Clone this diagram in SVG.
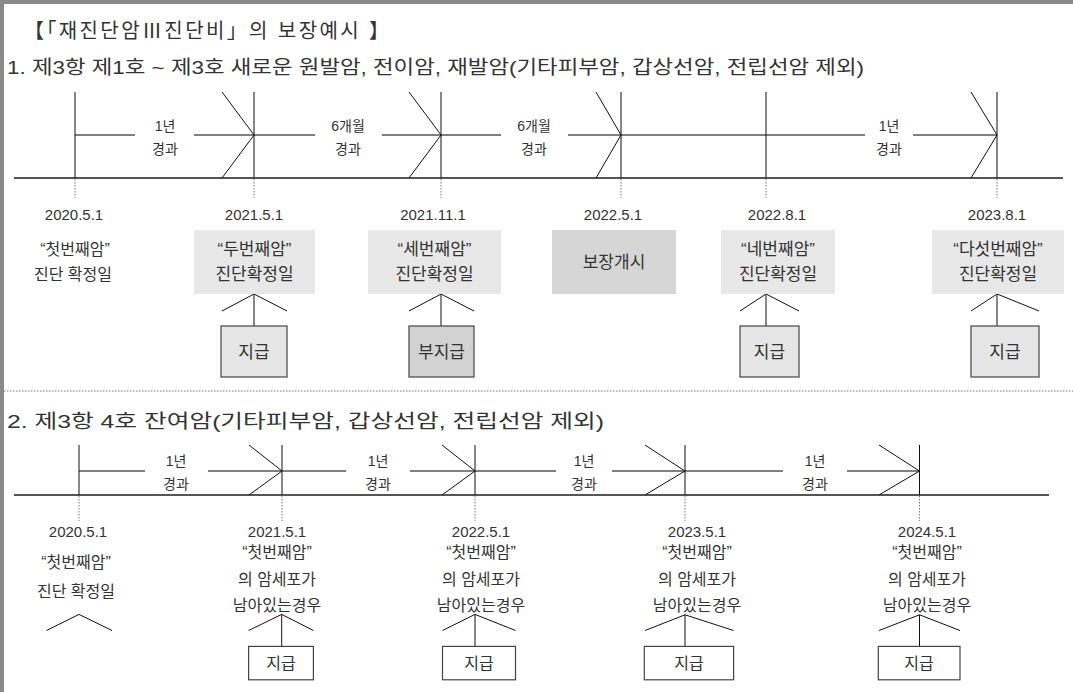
<svg xmlns="http://www.w3.org/2000/svg" width="1073" height="692" viewBox="0 0 1073 692">
<style>
text{font-family:"Liberation Sans","Noto Sans CJK KR",sans-serif;fill:#333}
.t{font-size:20px}
.h{font-size:19px}
.d{font-size:15px;text-anchor:middle}
.k{font-size:16px;text-anchor:middle}
.kb{font-size:17px;text-anchor:middle}
.l{font-size:14px;text-anchor:middle}
.main{stroke:#555;stroke-width:2;fill:none}
.up{stroke:#555;stroke-width:1.6;fill:none}
.tick{stroke:#111;stroke-width:1;fill:none}
.dot{stroke:#777;stroke-width:1;stroke-dasharray:1.5 1.5;fill:none}
.pay{fill:#e6e6e6;stroke:#444;stroke-width:1.2}
.nopay{fill:#d2d2d2;stroke:#444;stroke-width:1.2}
.wpay{fill:#fff;stroke:#444;stroke-width:1.2}
.g1{fill:#e8e8e8}
.g2{fill:#d6d6d6}
</style>
<rect x="0" y="0" width="1073" height="692" fill="#fff"/>
<rect x="0" y="0" width="1073" height="4" fill="#8a8a8a"/>
<rect x="0" y="0" width="4" height="692" fill="#8a8a8a"/>

<g id="headings">
<text class="t" x="24" y="38" textLength="365" lengthAdjust="spacing">【「재진단암Ⅲ진단비」의 보장예시 】</text>
<text class="h" x="7" y="74" textLength="857" lengthAdjust="spacingAndGlyphs">1. 제3항 제1호 ~ 제3호 새로운 원발암, 전이암, 재발암(기타피부암, 갑상선암, 전립선암 제외)</text>
<text class="h" x="7" y="428" textLength="597" lengthAdjust="spacingAndGlyphs">2. 제3항 4호 잔여암(기타피부암, 갑상선암, 전립선암 제외)</text>
</g>

<g id="connectors">
<path class="main" d="M14 178H1063M14 495H1049"/>
<path class="up" d="M75 135H135M194 135H315M382 135H501M568 135H865M913 135H997"/>
<path class="up" d="M79 471H145M208 471H346M410 471H556M612 471H783M847 471H919.5"/>
<path class="tick" d="M75 92V178M254 92V178M441 92V178M621 92V178M766 92V178M997 92V178"/>
<path class="tick" d="M222 92L254 135L222 178M409 92L441 135L409 178M596 92L621 135L596 178M971 92L997 135L971 178"/>
<path class="dot" d="M75 179V198M254 179V198M441 179V198M621 179V198M766 179V198M997 179V198"/>
<path class="tick" d="M79 445V495M282 445V495M475 445V495M685 445V495M919.5 445V495"/>
<path class="tick" d="M249 445L282 471L249 495M442 445L475 471L442 495M645 445L685 471L645 495M879 445L919.5 471L879 495"/>
<path class="dot" d="M79 496V521M282 496V521M475 496V521M685 496V521M919.5 496V521"/>
<path class="tick" d="M222 311L254 294L287 311M254 294V326M409 311L441 294L474 311M441 294V326M740 311L766 294L799 311M766 294V326M971 311L997 294L1039 311M997 294V326"/>
<path class="tick" d="M46.5 630.5L79 614.4L112 630.5M248.6 630.5L281.7 614.4L313.4 630.5M281.7 614.4V646.4M442.5 630.5L475 614.4L515.5 630.5M475 614.4V646.4M645 630.5L685 614.8L733.6 630.5M685 614.8V647M879 630.5L919.5 614.8L960 630.5M919.5 614.8V647"/>
<path class="dot" d="M4 391H1073"/>
</g>

<g id="labels1">
<text class="l" x="165" y="131">1년</text><text class="l" x="165" y="154">경과</text>
<text class="l" x="348" y="131">6개월</text><text class="l" x="348" y="154">경과</text>
<text class="l" x="534" y="131">6개월</text><text class="l" x="534" y="154">경과</text>
<text class="l" x="889" y="131">1년</text><text class="l" x="889" y="154">경과</text>
</g>
<g id="labels2">
<text class="l" x="176" y="466">1년</text><text class="l" x="176" y="489">경과</text>
<text class="l" x="378" y="466">1년</text><text class="l" x="378" y="489">경과</text>
<text class="l" x="584" y="466">1년</text><text class="l" x="584" y="489">경과</text>
<text class="l" x="815" y="466">1년</text><text class="l" x="815" y="489">경과</text>
</g>

<g id="s1-2020">
<text class="d" x="74" y="220">2020.5.1</text>
<text class="k" x="75" y="255">“첫번째암”</text>
<text class="k" x="73" y="280">진단 확정일</text>
</g>
<g id="s1-2021-5">
<text class="d" x="254" y="220">2021.5.1</text>
<rect class="g1" x="194" y="230" width="121" height="64"/>
<text class="kb" x="254.5" y="255">“두번째암”</text>
<text class="kb" x="254.5" y="280">진단확정일</text>
</g>
<g id="s1-2021-11">
<text class="d" x="433" y="220">2021.11.1</text>
<rect class="g1" x="368" y="230" width="133" height="64"/>
<text class="kb" x="434.5" y="255">“세번째암”</text>
<text class="kb" x="434.5" y="280">진단확정일</text>
</g>
<g id="s1-2022-5">
<text class="d" x="613" y="220">2022.5.1</text>
<rect class="g2" x="552" y="230" width="124" height="64"/>
<text class="kb" x="614" y="268">보장개시</text>
</g>
<g id="s1-2022-8">
<text class="d" x="777" y="220">2022.8.1</text>
<rect class="g1" x="721" y="230" width="114" height="64"/>
<text class="kb" x="778" y="255">“네번째암”</text>
<text class="kb" x="778" y="280">진단확정일</text>
</g>
<g id="s1-2023-8">
<text class="d" x="997" y="220">2023.8.1</text>
<rect class="g1" x="932" y="230" width="132" height="64"/>
<text class="kb" x="998" y="255">“다섯번째암”</text>
<text class="kb" x="998" y="280">진단확정일</text>
</g>
<g id="s1-pay1"><rect class="pay" x="221" y="326" width="66" height="51"/><text class="kb" x="254" y="358">지급</text></g>
<g id="s1-pay2"><rect class="nopay" x="409" y="326" width="65" height="51"/><text class="kb" x="441.5" y="358">부지급</text></g>
<g id="s1-pay3"><rect class="pay" x="740" y="326" width="59" height="51"/><text class="kb" x="769.5" y="358">지급</text></g>
<g id="s1-pay4"><rect class="pay" x="971" y="326" width="68" height="51"/><text class="kb" x="1005" y="358">지급</text></g>

<g id="s2-2020">
<text class="d" x="78" y="537">2020.5.1</text>
<text class="k" x="76" y="568">“첫번째암”</text>
<text class="k" x="76" y="597">진단 확정일</text>
</g>
<g id="s2-2021">
<text class="d" x="277" y="537">2021.5.1</text>
<text class="k" x="277" y="558">“첫번째암”</text>
<text class="k" x="277" y="585">의 암세포가</text>
<text class="k" x="277" y="611">남아있는경우</text>
</g>
<g id="s2-2022">
<text class="d" x="481" y="537">2022.5.1</text>
<text class="k" x="481" y="558">“첫번째암”</text>
<text class="k" x="481" y="585">의 암세포가</text>
<text class="k" x="481" y="611">남아있는경우</text>
</g>
<g id="s2-2023">
<text class="d" x="697" y="537">2023.5.1</text>
<text class="k" x="697" y="558">“첫번째암”</text>
<text class="k" x="697" y="585">의 암세포가</text>
<text class="k" x="697" y="611">남아있는경우</text>
</g>
<g id="s2-2024">
<text class="d" x="927" y="537">2024.5.1</text>
<text class="k" x="927" y="558">“첫번째암”</text>
<text class="k" x="927" y="585">의 암세포가</text>
<text class="k" x="927" y="611">남아있는경우</text>
</g>
<g id="s2-pay1"><rect class="wpay" x="248.6" y="646.4" width="64.8" height="33.4"/><text class="k" x="281" y="669">지급</text></g>
<g id="s2-pay2"><rect class="wpay" x="442.5" y="646.4" width="73" height="33.4"/><text class="k" x="479" y="669">지급</text></g>
<g id="s2-pay3"><rect class="wpay" x="644.3" y="646.4" width="89.3" height="33.4"/><text class="k" x="689" y="669">지급</text></g>
<g id="s2-pay4"><rect class="wpay" x="878.3" y="646.4" width="81.7" height="33.4"/><text class="k" x="919" y="669">지급</text></g>
</svg>
